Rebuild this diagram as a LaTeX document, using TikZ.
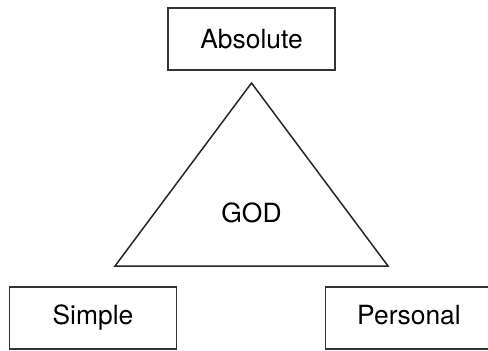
\documentclass[tikz,border=0pt]{standalone}
\usepackage{fontspec}
\setmainfont{TeX Gyre Heros}
\usepackage{tikz}
\usetikzlibrary{positioning}

\tikzset{
  termfont/.style={font=\fontsize{13.2}{15}\selectfont, text height=9.5pt, text depth=0pt},
  termbox/.style={termfont, draw=black!80, line width=0.75pt, minimum width=83.5pt,
    minimum height=31pt, inner sep=0pt},
}

\begin{document}
\begin{tikzpicture}[x=0.5pt, y=-0.5pt]
          \useasboundingbox (0,0) rectangle (488,350);
          % the three attributes
          \node[termbox] (absolute) at (251.5,39) {Absolute};
          \node[termbox, text depth=3pt] (simple) at (93,318) {Simple};
          \node[termbox, text depth=3pt] (personal) at (409,318) {Personal};
          % triangle
          \coordinate (top) at (251.5,83);
          \coordinate (left) at (115,266);
          \coordinate (right) at (388,266);
          \draw[black!85, line width=0.75pt, line join=miter] (top) -- (right) -- (left) -- cycle;
          \node[termfont, inner sep=0pt] (god) at (251.5,212.5) {GOD};
        \end{tikzpicture}
\end{document}
